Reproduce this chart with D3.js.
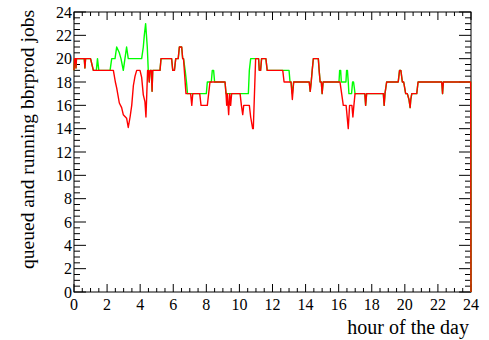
<!DOCTYPE html>
<html>
<head>
<meta charset="utf-8">
<script src="https://cdn.jsdelivr.net/npm/d3@7"></script>
<style>
body { margin: 0; background: #fff; }
svg { display: block; }
text { font-family: "Liberation Serif", "DejaVu Serif", serif; fill: #000; }
</style>
</head>
<body>
<svg id="chart" width="489" height="340"></svg>
<script>
/**
 * queued and running jobs over the day
 */

// running jobs (red)
var redHours = [0, 0.03, 0.1, 0.12, 0.15, 0.62, 0.66, 0.7, 1.0, 1.17, 2.38, 2.5, 2.58, 2.74, 2.88, 2.98, 3.18, 3.28, 3.39, 3.49,
	3.59, 3.69, 3.79, 3.99, 4.09, 4.19, 4.29, 4.35, 4.45, 4.5, 4.55, 4.6, 4.68, 4.72, 4.76, 5.2, 5.26, 5.9, 5.97, 6.07,
	6.15, 6.3, 6.37, 6.51, 6.57, 6.62, 6.77, 7.05, 7.12, 7.18, 7.6, 7.68, 8.06, 8.14, 8.22, 9.13, 9.19, 9.23, 9.27, 9.35,
	9.41, 9.47, 9.53, 10.04, 10.12, 10.2, 10.26, 10.6, 10.68, 10.8, 10.84, 10.98, 11.16, 11.2, 11.28, 11.34, 11.6, 11.68, 12.62, 12.7,
	13.12, 13.2, 13.28, 14.22, 14.28, 14.34, 14.4, 14.47, 14.77, 14.82, 14.88, 14.95, 15.0, 15.06, 16.08, 16.18, 16.28, 16.45, 16.58, 16.66,
	16.8, 16.86, 16.92, 16.99, 17.58, 17.63, 17.69, 18.7, 18.75, 18.8, 18.9, 19.6, 19.68, 19.76, 19.85, 19.93, 20.05, 20.15, 20.25, 20.32,
	20.36, 20.42, 20.72, 20.8, 22.23, 22.28, 22.33, 23.98, 24];
var redValues = [19, 20, 20, 19.2, 20, 20, 19.2, 20, 20, 19, 19, 18, 17.5, 16.2, 15.8, 15.2, 14.9, 14.1, 15, 16,
	17.7, 18.5, 19, 19, 18.4, 16.9, 16.3, 15, 19, 19, 18, 19, 19, 17.2, 19, 19, 20, 20, 19, 19,
	20, 20, 21, 21, 20, 20, 17, 17, 16, 17, 17, 16, 16, 17, 18, 18, 17, 16, 17, 15.2,
	17, 16, 17, 17, 16, 15.2, 16, 16, 15, 14, 14, 20, 20, 19, 19, 20, 20, 19, 19, 18,
	18, 16.5, 18, 18, 17.2, 18, 19, 20, 20, 19, 18, 18, 17, 18, 18, 17, 16, 16, 14, 16,
	16, 15, 16, 17, 17, 16, 17, 17, 16, 17, 18, 18, 19, 19, 18, 18, 17, 17, 16.5, 15.8,
	16.5, 17, 17, 18, 18, 17, 18, 18, 0];

// queued and running jobs (green)
var greenHours = [0, 0.03, 0.1, 0.12, 0.15, 0.62, 0.66, 0.7, 1.0, 1.17, 1.35, 1.42, 1.5, 2.18, 2.28, 2.48, 2.58, 2.74, 2.84, 2.98,
	3.08, 3.18, 3.28, 4.09, 4.19, 4.25, 4.33, 4.43, 4.49, 4.55, 4.6, 4.68, 4.72, 4.76, 5.2, 5.26, 5.9, 5.97, 6.07, 6.15,
	6.3, 6.37, 6.51, 6.57, 6.62, 6.72, 6.8, 6.86, 8.0, 8.06, 8.3, 8.36, 8.44, 8.5, 9.13, 9.19, 10.54, 10.6, 10.68, 11.16,
	11.2, 11.28, 11.34, 11.6, 11.68, 12.62, 13.0, 13.06, 13.12, 13.2, 13.28, 14.22, 14.28, 14.34, 14.4, 14.47, 14.77, 14.82, 14.88, 14.95,
	15.0, 15.06, 16.02, 16.06, 16.12, 16.16, 16.44, 16.48, 16.53, 16.58, 16.62, 16.78, 16.84, 16.9, 16.99, 17.58, 17.63, 17.69, 18.7, 18.75,
	18.8, 18.9, 19.6, 19.68, 19.76, 19.85, 19.93, 20.05, 20.15, 20.25, 20.32, 20.36, 20.42, 20.72, 20.8, 22.23, 22.28, 22.33, 23.98, 24];
var greenValues = [19, 20, 20, 19.2, 20, 20, 19.2, 20, 20, 19, 19, 20, 19, 19, 20, 20, 21, 20.5, 20, 19,
	20, 21, 20, 20, 21, 22, 23, 21, 19, 18, 19, 19, 17.2, 19, 19, 20, 20, 19, 19, 20,
	20, 21, 21, 20, 20, 19, 18, 17, 17, 18, 18, 19, 19, 18, 18, 17, 17, 19, 20, 20,
	19, 19, 20, 20, 19, 19, 19, 18, 18, 17, 18, 18, 17.2, 18, 19, 20, 20, 19, 18, 18,
	17, 18, 18, 19, 19, 18, 18, 19, 19, 18, 17, 17, 18, 18, 17, 17, 16, 17, 17, 16,
	17, 18, 18, 19, 19, 18, 18, 17, 17, 16.5, 15.8, 16.5, 17, 17, 18, 18, 17, 18, 18, 0];

var xTicks = [0, 2, 4, 6, 8, 10, 12, 14, 16, 18, 20, 22, 24];
var yTicks = [0, 2, 4, 6, 8, 10, 12, 14, 16, 18, 20, 22, 24];

var xTitle = "hour of the day";
var yTitle = "queued and running bbrprod jobs";

/** frame of the pad (pixels) */
var frame = {left: 74, right: 471, top: 12, bottom: 292};

var svg = d3.select("#chart");

var x = d3.scaleLinear().domain([0, 24]).range([frame.left, frame.right]);
var y = d3.scaleLinear().domain([0, 24]).range([frame.bottom, frame.top]);

/** minor ticks: 4 subdivisions between majors */
function minorTicks(majors){
	var out = [];
	for(var i = 0; i < majors.length - 1; i++){
		var step = (majors[i+1] - majors[i]) / 4;
		for(var k = 1; k < 4; k++) out.push(majors[i] + k*step);
	}
	return out;
}

// frame box
svg.append("rect")
	.attr("x", frame.left).attr("y", frame.top)
	.attr("width", frame.right - frame.left)
	.attr("height", frame.bottom - frame.top)
	.attr("fill", "none").attr("stroke", "#000").attr("stroke-width", 1);

// ticks on the four sides (ROOT style, pointing inside)
var xMajorLen = 8, xMinorLen = 4, yMajorLen = 12, yMinorLen = 6;
var tickG = svg.append("g").attr("stroke", "#000").attr("stroke-width", 1);

function drawXTicks(values, len){
	tickG.selectAll(null).data(values).enter().append("line")
		.attr("x1", function(d){return x(d);}).attr("x2", function(d){return x(d);})
		.attr("y1", frame.bottom).attr("y2", frame.bottom - len);
	tickG.selectAll(null).data(values).enter().append("line")
		.attr("x1", function(d){return x(d);}).attr("x2", function(d){return x(d);})
		.attr("y1", frame.top).attr("y2", frame.top + len);
}
function drawYTicks(values, len){
	tickG.selectAll(null).data(values).enter().append("line")
		.attr("y1", function(d){return y(d);}).attr("y2", function(d){return y(d);})
		.attr("x1", frame.left).attr("x2", frame.left + len);
	tickG.selectAll(null).data(values).enter().append("line")
		.attr("y1", function(d){return y(d);}).attr("y2", function(d){return y(d);})
		.attr("x1", frame.right).attr("x2", frame.right - len);
}
drawXTicks(xTicks, xMajorLen);
drawXTicks(minorTicks(xTicks), xMinorLen);
drawYTicks(yTicks, yMajorLen);
drawYTicks(minorTicks(yTicks), yMinorLen);

// tick labels
svg.append("g").selectAll("text").data(xTicks).enter().append("text")
	.attr("x", function(d){return x(d);})
	.attr("y", 310)
	.attr("text-anchor", "middle")
	.attr("font-size", 16)
	.text(function(d){return d;});

svg.append("g").selectAll("text").data(yTicks).enter().append("text")
	.attr("x", frame.left - 2)
	.attr("y", function(d){return y(d) + 5.8;})
	.attr("text-anchor", "end")
	.attr("font-size", 16)
	.text(function(d){return d;});

// axis titles
svg.append("text")
	.attr("x", frame.right - 2)
	.attr("y", 334)
	.attr("text-anchor", "end")
	.attr("font-size", 20)
	.text(xTitle);

svg.append("text")
	.attr("transform", "translate(34," + (frame.top - 2) + ") rotate(-90)")
	.attr("text-anchor", "end")
	.attr("font-size", 19.5)
	.text(yTitle);

/** make the series polyline */
function drawSeries(hours, values, color){
	var pts = hours.map(function(h, i){return [h, values[i]];});
	var line = d3.line()
		.x(function(d){return x(d[0]);})
		.y(function(d){return y(d[1]);});
	svg.append("path")
		.datum(pts)
		.attr("d", line)
		.attr("fill", "none")
		.attr("stroke", color)
		.attr("stroke-width", 1.4)
		.attr("stroke-linejoin", "round");
}
drawSeries(greenHours, greenValues, "#00ff00");
drawSeries(redHours, redValues, "#ff0000");
</script>
</body>
</html>
